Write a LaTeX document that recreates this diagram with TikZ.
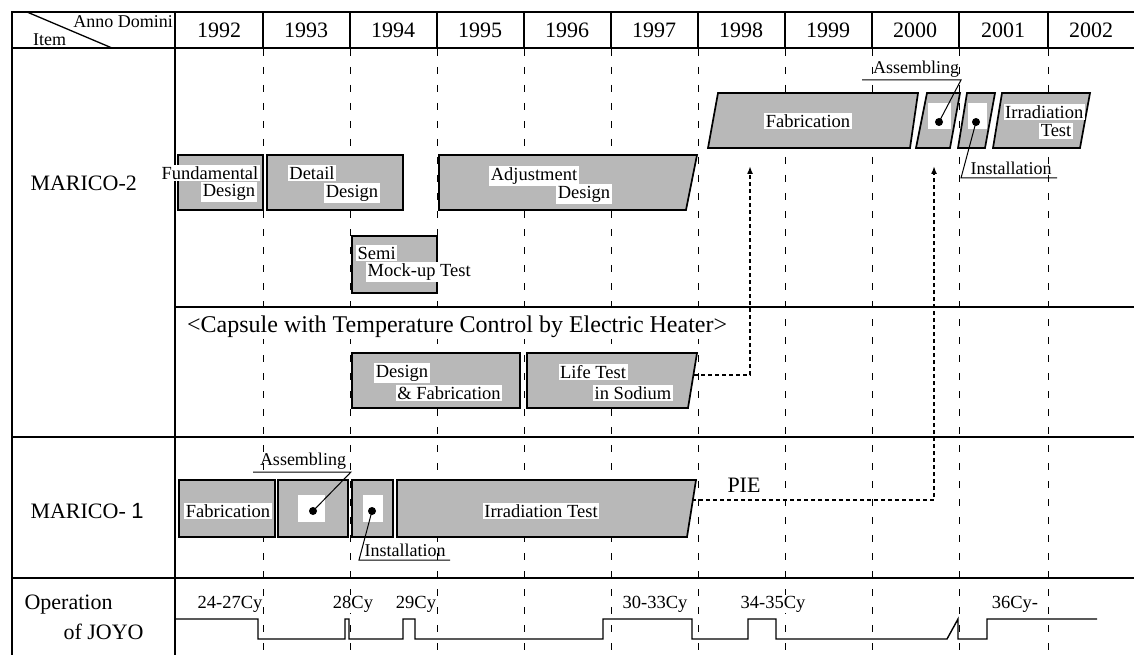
\documentclass[tikz,border=0pt]{standalone}
\usepackage{fontspec}
\setmainfont{Liberation Serif}
\newfontfamily\sansone{Liberation Sans}
\usetikzlibrary{arrows.meta,positioning,calc}

\begin{document}
\begin{tikzpicture}[x=1pt, y=-1pt, >=Latex,
    frame/.style={line width=1.3pt},
    outer/.style={line width=2.4pt},
    yearsep/.style={line width=0.9pt, dash pattern=on 7pt off 11pt},
    bar/.style={draw, line width=1.7pt, fill=black!28, line join=miter},
    txt/.style={fill=white, inner sep=1.5pt, font=\fontsize{18.5}{19}\selectfont},
    yr/.style={font=\fontsize{22}{24}\selectfont},
    item/.style={anchor=west, font=\fontsize{22}{24}\selectfont},
    cy/.style={fill=white, inner sep=1pt, font=\fontsize{18.5}{19}\selectfont},
    call/.style={inner sep=1pt, font=\fontsize{18}{19}\selectfont},
    flow/.style={->, line width=1.6pt, dash pattern=on 4pt off 3pt, >={Latex[length=8pt,width=6pt]}},
    lead/.style={line width=1pt},
    hole/.style={fill=white, draw=none},
    dot/.style={circle, fill=black, inner sep=0pt, minimum size=8pt}]
  \useasboundingbox (0,0) rectangle (1134,655);
  % table frame
  \draw[outer] (12,655) -- (12,12) -- (1134,12);
  \draw[frame] (12,48) -- (1134,48);
  \draw[frame] (175,12) -- (175,655);
  \draw[frame] (175,307) -- (1134,307);
  \draw[frame] (12,437) -- (1134,437);
  \draw[frame] (12,578) -- (1134,578);
  \draw[frame] (27,12) -- (112,48);
  \node[font=\fontsize{18}{20}\selectfont, anchor=north east, inner sep=0pt] (ad) at (173,15) {Anno Domini};
  \node[font=\fontsize{18}{20}\selectfont, anchor=south west, inner sep=0pt] (itm) at (33,46) {Item};
  % year columns
  \foreach \x in {263,350,437,524,611,698,785,872,959,1048} {
    \draw[frame] (\x,12) -- (\x,48);
    \draw[yearsep] (\x,49) -- (\x,655);
  }
  \node[yr] (y92) at (219,30) {1992};
  \node[yr] (y93) at (306,30) {1993};
  \node[yr] (y94) at (393,30) {1994};
  \node[yr] (y95) at (480,30) {1995};
  \node[yr] (y96) at (567,30) {1996};
  \node[yr] (y97) at (654,30) {1997};
  \node[yr] (y98) at (741,30) {1998};
  \node[yr] (y99) at (828,30) {1999};
  \node[yr] (y00) at (915,30) {2000};
  \node[yr] (y01) at (1003,30) {2001};
  \node[yr] (y02) at (1091,30) {2002};
  % item labels
  \node[item] (m2) at (27,183) {MARICO-2};
  \node[item] (m1) at (27,511) {MARICO- {\sansone 1}};
  \node[item] (op) at (21,605) {Operation};
  \node[item] (joyo) at (60,632) {of JOYO};

  % MARICO-2
  \draw[bar] (178,155) rectangle (263,210);
  \node[txt] (fund) at (210,173) {Fundamental};
  \node[txt] (fundb) at (229,192) {Design};
  \draw[bar] (267,155) rectangle (403,210);
  \node[txt] (det) at (312,173) {Detail};
  \node[txt] (detb) at (352,193) {Design};
  \draw[bar] (439,155) -- (697,155) -- (686,210) -- (439,210) -- cycle;
  \node[txt] (adj) at (534,176) {Adjustment};
  \node[txt] (adjb) at (584,194) {Design};
  \draw[bar] (352,236) rectangle (437,293);
  \node[txt, anchor=west] (semi) at (356,253) {Semi};
  \node[txt, anchor=west] (mock) at (366,272) {Mock-up Test};

  \draw[bar] (718,93) -- (918,93) -- (910,148) -- (708,148) -- cycle;
  \node[txt] (fab2) at (808,121) {Fabrication};
  \coordinate (fab2in) at (750,166);
  \draw[bar] (927,93) -- (960,93) -- (950,148) -- (916,148) -- cycle;
  \fill[hole] (928,103) rectangle (951,129);
  \node[dot] (asm2d) at (939,122) {};
  \draw[bar] (967,93) -- (995,93) -- (985,148) -- (958,148) -- cycle;
  \fill[hole] (968,103) rectangle (987,129);
  \node[dot] (ins2d) at (976,122) {};
  \draw[bar] (1002,93) -- (1090,93) -- (1080,148) -- (993,148) -- cycle;
  \node[txt, anchor=east] (irr2) at (1085,112) {Irradiation};
  \node[txt, anchor=east] (irr2b) at (1073,131) {Test};
  \coordinate (asm2in) at (934,166);

  \node[call] (asm2t) at (916,69) {Assembling};
  \coordinate (asm2k) at (961,80);
  \coordinate (asm2e) at (862,80);
  \draw[lead] (asm2d.center) -- (asm2k) -- (asm2e);
  \node[call] (ins2t) at (1011,168) {Installation};
  \coordinate (ins2k) at (961,178);
  \coordinate (ins2e) at (1057,178);
  \draw[lead] (ins2d.center) -- (ins2k) -- (ins2e);

  % capsule with electric heater
  \node[anchor=west, fill=white, font=\fontsize{24}{26}\selectfont, inner sep=1pt] (cap) at (186,327) {<Capsule with Temperature Control by Electric Heater>};
  \draw[bar] (352,353) rectangle (520,408);
  \node[txt] (dfab) at (402,373) {Design};
  \node[txt] (dfabb) at (449,393) {\& Fabrication};
  \draw[bar] (527,353) -- (697,353) -- (688,408) -- (527,408) -- cycle;
  \node[txt] (life) at (593,372) {Life Test};
  \node[txt] (lifeb) at (633,393) {in Sodium};
  \coordinate (lifeout) at (694,375);
  \draw[flow] (lifeout) -| (fab2in);

  % MARICO-1
  \draw[bar] (179,480) rectangle (275,537);
  \node[txt] (fab1) at (228,511) {Fabrication};
  \draw[bar] (278,480) rectangle (348,537);
  \fill[hole] (298,495) rectangle (325,522);
  \node[dot] (asm1d) at (313,511) {};
  \draw[bar] (352,480) rectangle (393,537);
  \fill[hole] (363,495) rectangle (383,522);
  \node[dot] (ins1d) at (372,511) {};
  \draw[bar] (397,480) -- (696,480) -- (687,537) -- (397,537) -- cycle;
  \node[txt] (irr1) at (541,511) {Irradiation Test};
  \coordinate (irr1out) at (692,500);
  \node[font=\fontsize{22}{24}\selectfont, inner sep=0pt] (pie) at (744,485) {PIE};
  \draw[flow] (irr1out) -| (asm2in);

  \node[call] (asm1t) at (303,461) {Assembling};
  \coordinate (asm1k) at (351,472);
  \coordinate (asm1e) at (253,472);
  \draw[lead] (asm1d.center) -- (asm1k) -- (asm1e);
  \node[call] (ins1t) at (405,550) {Installation};
  \coordinate (ins1k) at (359,560);
  \coordinate (ins1e) at (450,560);
  \draw[lead] (ins1d.center) -- (ins1k) -- (ins1e);

  % operation of JOYO
  \node[cy] (c24) at (230,604) {24-27Cy};
  \node[cy] (c28) at (353,604) {28Cy};
  \node[cy] (c29) at (416,604) {29Cy};
  \node[cy] (c30) at (655,604) {30-33Cy};
  \node[cy] (c34) at (773,604) {34-35Cy};
  \node[cy] (c36) at (1015,604) {36Cy-};
  \draw[line width=1.4pt] (175,619) -- (258,619) -- (258,639) -- (345,639) -- (345,619) -- (349,619) -- (349,639)
    -- (403,639) -- (403,619) -- (415,619) -- (415,639) -- (603,639) -- (603,619) -- (692,619) -- (692,639)
    -- (748,639) -- (748,619) -- (776,619) -- (776,639) -- (947,639) -- (958,619) -- (958,639) -- (987,639)
    -- (987,619) -- (1097,619);
\end{tikzpicture}
\end{document}
